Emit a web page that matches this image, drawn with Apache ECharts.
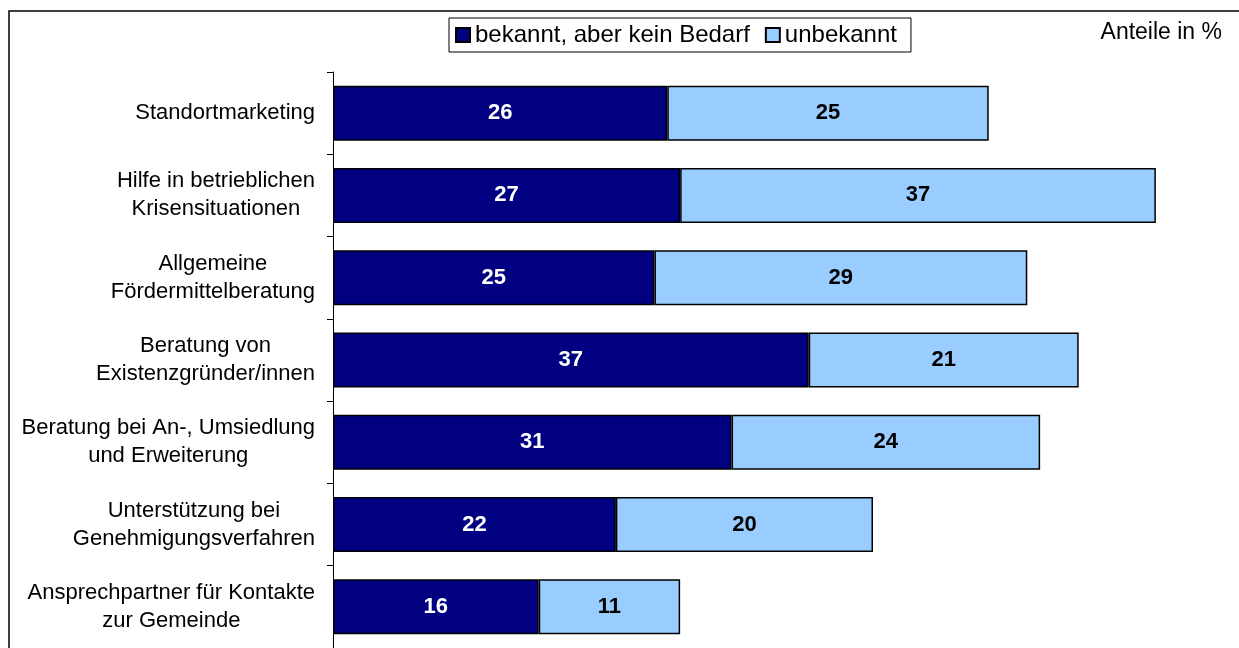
<!DOCTYPE html>
<html><head><meta charset="utf-8">
<script src="https://cdn.jsdelivr.net/npm/echarts@6/dist/echarts.min.js"></script>
<style>html,body{margin:0;padding:0;background:#fff}#c{width:1239px;height:648px}</style>
</head><body><div id="c"></div>
<script>
const categories = [
  "Standortmarketing",
  "Hilfe in betrieblichen\nKrisensituationen",
  "Allgemeine\nFördermittelberatung",
  "Beratung von\nExistenzgründer/innen",
  "Beratung bei An-, Umsiedlung\nund Erweiterung",
  "Unterstützung bei\nGenehmigungsverfahren",
  "Ansprechpartner für Kontakte\nzur Gemeinde"
];
const seriesNames = ["bekannt, aber kein Bedarf", "unbekannt"];
const knownNoNeed = [26, 27, 25, 37, 31, 22, 16];
const unknown = [25, 37, 29, 21, 24, 20, 11];
const unitLabel = "Anteile in %";

const FONT = "'Liberation Sans', Arial, sans-serif";
const chart = echarts.init(document.getElementById('c'), null, {renderer: 'canvas'});
chart.setOption({
  animation: false,
  backgroundColor: '#fff',
  textStyle: {fontFamily: FONT},
  graphic: [
    {type: 'rect', shape: {x: 9, y: 11, width: 1400, height: 800}, style: {fill: 'none', stroke: '#000', lineWidth: 1.5}, silent: true},
    {type: 'text', right: 17, top: 21, style: {text: unitLabel, font: "23px 'Liberation Sans', Arial, sans-serif", fill: '#000'}}
  ],
  legend: {
    left: 449, top: 18,
    padding: [5, 14, 5, 6],
    borderColor: '#000', borderWidth: 1,
    itemWidth: 14, itemHeight: 14, itemGap: 15,
    icon: 'rect',
    textStyle: {fontSize: 24, color: '#000', fontFamily: FONT},
    data: seriesNames
  },
  grid: {left: 333, right: 6, top: 72, bottom: 0},
  xAxis: {type: 'value', min: 0, max: 70, show: false},
  yAxis: {
    type: 'category', inverse: true, data: categories,
    axisLine: {show: true, lineStyle: {color: '#000', width: 1}},
    axisTick: {show: true, length: 6, lineStyle: {color: '#000'}},
    axisLabel: {
      margin: 18, fontSize: 22, color: '#000', fontFamily: FONT, lineHeight: 28,
      formatter: v => v.split('\n').map(s => '{c|' + s + '}').join('\n'),
      rich: {c: {align: 'center', fontSize: 22, lineHeight: 28, color: '#000', fontFamily: FONT}}
    }
  },
  series: [
    {
      name: seriesNames[0], type: 'bar', stack: 's', data: knownNoNeed, barWidth: 55,
      itemStyle: {color: '#000080', borderColor: '#000', borderWidth: 1.5},
      label: {show: true, position: 'inside', color: '#fff', fontWeight: 'bold', fontSize: 22, fontFamily: FONT}
    },
    {
      name: seriesNames[1], type: 'bar', stack: 's', data: unknown, barWidth: 55,
      itemStyle: {color: '#99ccff', borderColor: '#000', borderWidth: 1.5},
      label: {show: true, position: 'inside', color: '#000', fontWeight: 'bold', fontSize: 22, fontFamily: FONT}
    }
  ]
});
</script></body></html>
